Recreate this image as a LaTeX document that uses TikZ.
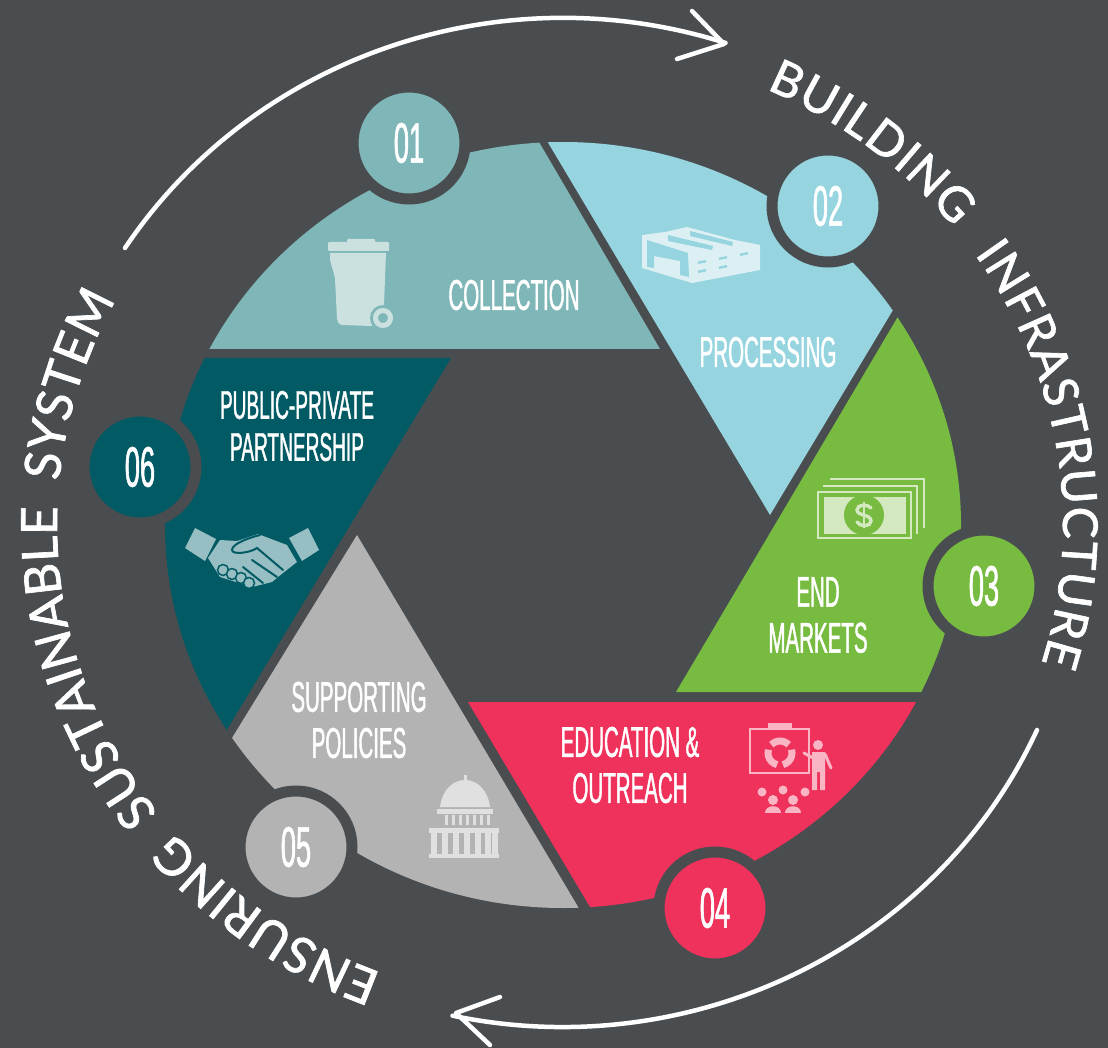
\documentclass[tikz,border=0pt]{standalone}
\usepackage{fontspec}
\usetikzlibrary{decorations.text}
\newfontfamily\labelfont[FakeStretch=0.477,FakeBold=1.0]{Liberation Sans}
\newfontfamily\ringfont[FakeBold=1.4]{Lato}
\definecolor{bgc}{HTML}{4A4D50}
\definecolor{cA}{HTML}{7FB6B7}
\definecolor{cB}{HTML}{96D4E0}
\definecolor{cC}{HTML}{78BB41}
\definecolor{cD}{HTML}{EF325B}
\definecolor{cE}{HTML}{B3B3B3}
\definecolor{cF}{HTML}{015A64}
\definecolor{iA}{HTML}{CBE1E0}
\definecolor{iB}{HTML}{DCF0F4}
\definecolor{iC}{HTML}{D4E9BF}
\definecolor{iD}{HTML}{F9B5C3}
\definecolor{iE}{HTML}{E0E0E0}
\definecolor{iF}{HTML}{97BEC3}
\tikzset{
  numdisc/.style={circle,draw=bgc,line width=11pt,minimum size=112pt,inner sep=0pt,text=white,
    font=\labelfont\fontsize{57}{57}\selectfont},
  wlabel/.style={inner sep=0pt,align=center,text=white,
    font=\labelfont\fontsize{43}{46}\selectfont},
  arcline/.style={draw=white,line width=4.5pt,line cap=round,line join=round},
}
\begin{document}
\begin{tikzpicture}[x=1pt,y=1pt]
\useasboundingbox (0,0) rectangle (1108,-1048);
\fill[bgc] (0,0) rectangle (1108,-1048);
\coordinate (c) at (563,-525);
% wedges
\begin{scope}
\clip (c) ellipse [x radius=398pt,y radius=383pt];
\fill[cA] (660,-349) -- (100,-349) -- (100,0) -- (456,0) -- cycle;
\fill[cB] (770,-515) -- (463,0) -- (1079,0) -- cycle;
\fill[cC] (676,-692) -- (1100,-692) -- (1100,-100) -- (1026,-100) -- cycle;
\fill[cD] (468,-702) -- (1100,-702) -- (1100,-1048) -- (674,-1048) -- cycle;
\fill[cE] (357,-535) -- (662,-1048) -- (41,-1048) -- cycle;
\fill[cF] (451,-358) -- (64,-1000) -- (0,-1000) -- (0,-358) -- cycle;
\end{scope}
% number discs
\node[numdisc,fill=cA] (n1) at (409,-143) {01};
\node[numdisc,fill=cB] (n2) at (828,-206) {02};
\node[numdisc,fill=cC] (n3) at (984,-586) {03};
\node[numdisc,fill=cD] (n4) at (715,-908) {04};
\node[numdisc,fill=cE] (n5) at (296,-847) {05};
\node[numdisc,fill=cF] (n6) at (140,-467) {06};
% labels
\node[wlabel] (l1) at (514,-295) {COLLECTION};
\node[wlabel] (l2) at (768,-352) {PROCESSING};
\node[wlabel] (l3) at (818,-615) {END\\MARKETS};
\node[wlabel] (l4) at (630,-765) {EDUCATION \&\\OUTREACH};
\node[wlabel] (l5) at (359,-720) {SUPPORTING\\POLICIES};
\node[wlabel,font=\labelfont\fontsize{40}{42}\selectfont] (l6) at (297,-426) {PUBLIC-PRIVATE\\PARTNERSHIP};
% arrows
\coordinate (a1s) at (125,-248);
\coordinate (a1t) at (724,-44);
\coordinate (a1u) at (692,-11);
\coordinate (a1v) at (677,-59);
\draw[arcline] (a1s) arc[start angle=146.9,end angle=71.9,x radius=523pt,y radius=507pt];
\draw[arcline] (a1u) -- (a1t) -- (a1v);
\coordinate (a2s) at (1037,-730);
\coordinate (a2t) at (456,-1013);
\coordinate (a2u) at (500,-997);
\coordinate (a2v) at (490,-1045);
\draw[arcline] (a2s) arc[start angle=-24.1,end angle=-102.2,x radius=520pt,y radius=502pt];
\draw[arcline] (a2u) -- (a2t) -- (a2v);
% ring texts
\coordinate (r1) at (766.4,-89.2);
\path[decorate,decoration={text along path,text align=fit to path,
  text={|\ringfont\fontsize{48}{48}\selectfont\color{white}|BUILDING{\kern18pt} INFRASTRUCTURE}}]
  (r1) arc[start angle=66,end angle=-16.8,x radius=500pt,y radius=477pt];
\coordinate (r2) at (381.7,-973.1);
\path[decorate,decoration={text along path,text align=fit to path,
  text={|\ringfont\fontsize{50}{50}\selectfont\color{white}|ENSURING{\kern12pt} SUSTAINABLE{\kern12pt} SYSTEM}}]
  (r2) arc[start angle=249,end angle=152,x radius=506pt,y radius=480pt];
% icon: bin
\fill[iA,rounded corners=1pt] (328,-242) rectangle (389,-251);
\fill[iA,rounded corners=1pt] (347,-239) rectangle (375,-243);
\fill[iA] (330,-253) -- (386,-253) -- (384,-305) -- (372,-326) -- (342,-325)
  .. controls (339,-325) and (338,-323) .. (337,-319) -- (335,-278) -- (330,-260) -- cycle;
\fill[cA] (383,-318) circle[radius=13pt];
\draw[iA,line width=5pt] (383,-318) circle[radius=7.5pt];
% icon: factory
\fill[iB] (642,-235) -- (665,-232) -- (687,-227) -- (735,-240) -- (760,-245) -- (760,-270) -- (692,-283) -- (642,-268) -- cycle;
\fill[cB] (647,-240) -- (688,-253) -- (689,-277) -- (680,-275) -- (680,-261) -- (654,-256) -- (654,-268) -- (647,-267) -- cycle;
\fill[cB] (668,-235) -- (713,-246) -- (712,-250) -- (668,-241) -- cycle;
\fill[cB] (690,-231) -- (733,-242) -- (732,-246) -- (690,-236) -- cycle;
\foreach \xx/\yy in {702/-262,702/-271,723/-258,723/-267,744/-254}
  \draw[cB,line width=2.4pt] (\xx-4,\yy+-0.8) -- (\xx+4,\yy+0.8);
% icon: money
\draw[iC,line width=2.2pt] (830,-479) -- (924,-479) -- (924,-528);
\draw[iC,line width=2.2pt] (823,-486) -- (917,-486) -- (917,-534);
\draw[iC,line width=2.2pt] (818,-492) rectangle (911,-538);
\fill[iC] (824,-497) rectangle (906,-534);
\fill[cC] (864,-515) circle[radius=20pt];
\draw[iC,line width=3.4pt,line cap=round] (871,-508) .. controls (868,-504) and (857,-504) .. (857,-510)
  .. controls (857,-516) and (871,-514) .. (871,-521) .. controls (871,-527) and (860,-527) .. (857,-522);
\draw[iC,line width=2.6pt] (864,-502) -- (864,-528);
% icon: presentation
\draw[iD,line width=2.5pt] (750,-729) rectangle (809,-773);
\fill[iD] (768,-723) rectangle (792,-729);
\foreach \aa in {90,210,330}
  \draw[iD,line width=7pt] (780,-753) ++(\aa-46:12pt) arc[start angle=\aa-46,end angle=\aa+46,radius=12pt];
\fill[iD] (818,-745) circle[radius=5pt];
\fill[iD] (812,-752) -- (825,-752) -- (825,-790) -- (820,-790) -- (820,-772) -- (817,-772) -- (817,-790) -- (812,-790) -- cycle;
\draw[iD,line width=3pt,line cap=round] (804,-753) -- (813,-758);
\draw[iD,line width=3pt,line cap=round] (825,-754) -- (831,-768);
\foreach \xx/\yy in {762/-792,783/-790,805/-792} \fill[iD] (\xx,\yy) circle[radius=4.5pt];
\foreach \xx in {773,793}{
  \fill[iD] (\xx,-800) circle[radius=5pt];
  \fill[iD] (\xx-8,-813) .. controls (\xx-8,-804) and (\xx+8,-804) .. (\xx+8,-813) -- cycle;}
% icon: capitol
\fill[iE] (440,-807) .. controls (442,-790) and (453,-780) .. (465,-780)
  .. controls (477,-780) and (488,-790) .. (490,-807) -- cycle;
\fill[iE] (463.5,-775) rectangle (466.5,-782);
\fill[iE] (437,-809) rectangle (493,-814);
\foreach \xx in {446,453,460,467,474,481,488} \fill[iE] (\xx-1.5,-815) rectangle (\xx+1.5,-825);
\fill[iE] (429,-828) rectangle (499,-833);
\foreach \xx in {434,445,456,467,478,488,495} \fill[iE] (\xx-3,-833) rectangle (\xx+3,-854);
\fill[iE] (429,-854) rectangle (499,-858);
% icon: handshake
\fill[iF] (195,-528) -- (216,-539) -- (205,-561) -- (185,-548) -- cycle;
\fill[iF] (308,-528) -- (319,-550) -- (302,-561) -- (289,-538) -- cycle;
\fill[iF] (220,-540) -- (237,-541) -- (258,-534) -- (287,-545) -- (297,-562) -- (283,-573)
  -- (272,-582) -- (252,-587) -- (220,-577) -- (208,-558) -- cycle;
\draw[cF,line width=2pt,line cap=round] (260,-535) .. controls (248,-538) and (232,-544) .. (232,-550)
  .. controls (232,-555) and (250,-553) .. (257,-548) -- (283,-570);
\draw[cF,line width=2pt,line cap=round] (252,-560) -- (277,-577);
\draw[cF,line width=2pt,line cap=round] (243,-567) -- (263,-583);
\foreach \xx/\yy in {223/-570,232/-574,241/-578,249/-583}
  \filldraw[fill=iF,draw=cF,line width=1.5pt] (\xx,\yy) circle[radius=5.5pt];
\end{tikzpicture}
\end{document}
